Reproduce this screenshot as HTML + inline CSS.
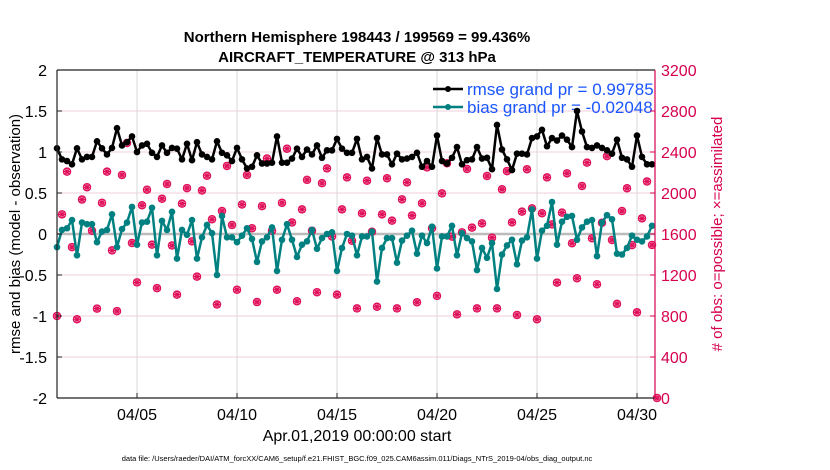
<!DOCTYPE html>
<html><head><meta charset="utf-8">
<style>
html,body{margin:0;padding:0;background:#fff;width:830px;height:470px;overflow:hidden}
svg{display:block;font-family:"Liberation Sans",sans-serif}
</style></head>
<body>
<svg id="chart" width="830" height="470" viewBox="0 0 830 470">
  <text x="357" y="42" text-anchor="middle" font-size="15" font-weight="bold">Northern Hemisphere 198443 / 199569 = 99.436%</text>
  <text x="357" y="62" text-anchor="middle" font-size="15" font-weight="bold">AIRCRAFT_TEMPERATURE @ 313 hPa</text>
  <g id="grid"></g>
  <g id="legend">
    <line x1="433" y1="89" x2="463" y2="89" stroke="#000" stroke-width="2.5"/>
    <circle cx="448" cy="89" r="3" fill="#000"/>
    <text x="467" y="95" font-size="17" fill="#1a56ff">rmse grand pr = 0.99785</text>
    <line x1="433" y1="107" x2="463" y2="107" stroke="#008080" stroke-width="2.5"/>
    <circle cx="448" cy="107" r="3" fill="#008080"/>
    <text x="467" y="113" font-size="17" fill="#1a56ff">bias grand pr = -0.02048</text>
  </g>
  <g id="obs"></g>
  <g id="series"></g>
  <g id="axes"></g>
  <text transform="translate(20,234) rotate(-90)" text-anchor="middle" font-size="15">rmse and bias (model - observation)</text>
  <text transform="translate(722,234) rotate(-90)" text-anchor="middle" font-size="15" fill="#d6004f"># of obs: o=possible; ×=assimilated</text>
  <text x="357" y="441" text-anchor="middle" font-size="16">Apr.01,2019 00:00:00 start</text>
  <text x="357" y="461" text-anchor="middle" font-size="7.5">data file: /Users/raeder/DAI/ATM_forcXX/CAM6_setup/f.e21.FHIST_BGC.f09_025.CAM6assim.011/Diags_NTrS_2019-04/obs_diag_output.nc</text>
</svg>
<script>
const rmse=[1.045,0.91,0.89,0.85,1.045,0.91,0.94,0.94,1.13,1.045,0.97,1.05,1.29,1.08,1.12,1.19,1.00,1.08,1.10,0.99,0.94,1.08,0.99,1.05,1.04,0.91,1.10,0.90,1.12,0.97,0.94,0.91,1.13,0.99,0.96,0.89,1.05,0.91,0.80,0.82,0.96,0.86,0.86,0.87,1.19,0.87,0.87,0.92,1.04,0.94,1.03,0.97,1.08,0.93,1.02,1.02,1.16,1.04,0.99,0.99,1.16,0.91,0.94,0.80,1.17,0.97,0.97,0.85,0.98,0.91,0.92,0.94,0.99,0.82,0.89,0.82,1.20,0.89,0.86,0.93,1.06,0.85,0.90,0.91,1.06,0.92,0.93,0.79,1.33,1.03,0.91,0.78,0.98,0.98,0.97,1.17,1.19,1.27,1.07,1.17,1.14,1.20,1.15,1.06,1.50,1.25,1.06,1.05,1.08,1.05,1.02,0.98,1.15,0.93,0.91,0.82,1.20,0.94,0.85,0.85];
const bias=[-0.16,0.05,0.07,0.17,-0.26,0.14,0.12,0.12,-0.10,0.03,0.05,0.24,-0.16,0.06,0.14,0.33,-0.13,0.14,0.15,0.32,-0.26,0.16,0.05,0.27,-0.30,0.05,-0.01,0.17,-0.30,-0.04,0.11,0.01,-0.50,0.22,-0.04,-0.04,-0.10,-0.02,0.07,-0.06,-0.34,-0.09,-0.04,0.08,-0.45,-0.07,0.12,-0.07,-0.28,-0.13,-0.09,0.05,-0.18,-0.05,0.00,0.02,-0.45,-0.17,0.00,-0.02,-0.26,-0.03,-0.03,0.03,-0.58,-0.17,-0.05,-0.05,-0.35,-0.08,-0.02,0.04,-0.24,-0.02,-0.11,0.09,-0.42,-0.03,-0.03,0.10,-0.26,0.01,-0.05,-0.09,-0.44,-0.17,-0.29,-0.11,-0.67,-0.25,-0.14,-0.07,-0.37,-0.08,-0.04,0.30,-0.30,0.04,0.10,0.39,-0.13,0.15,0.21,0.22,-0.07,0.08,0.15,0.17,-0.27,0.14,0.23,0.18,-0.24,-0.25,-0.17,-0.02,-0.07,-0.09,-0.03,0.10];
const obsCount=[800,1792,2208,1472,768,1936,2056,1632,872,1904,2208,1440,848,2176,2488,1512,1128,1880,2032,1496,1072,1944,2088,1488,1008,1896,2048,1528,1184,2024,2168,1744,912,1824,2264,1688,1056,1888,2176,1656,936,1872,2336,1632,1056,1904,2432,1712,944,1840,2128,1632,1032,2096,2240,1576,1008,1840,2152,1534,874,1802,2120,1622,890,1792,2144,1730,874,1938,2104,1780,934,1900,2250,1656,996,1996,2290,1574,816,1616,2234,1662,874,1704,2166,1564,874,2036,2214,1714,810,1818,2232,1850,768,1802,2152,1694,1126,1808,2192,1510,1168,2068,2296,1558,1110,1710,2360,1542,918,1824,2046,1492,836,1752,2112,1493,0];
const leftTicks=[-2,-1.5,-1,-0.5,0,0.5,1,1.5,2];
const rightTicks=[0,400,800,1200,1600,2000,2400,2800,3200];
const dateTicks=[4,9,14,19,24,29];
const dateLabels=["04/05","04/10","04/15","04/20","04/25","04/30"];

const NS="http://www.w3.org/2000/svg";
const L=57,R=655,T=70,B=398;
const xDay=d=>L+(R-L)*d/29.9;
const xIdx=i=>xDay(i*0.25);
const yL=v=>T+(2-v)/4*(B-T);
const yR=c=>B-c/3200*(B-T);
function mk(tag,attrs,parent){const e=document.createElementNS(NS,tag);for(const k in attrs)e.setAttribute(k,attrs[k]);parent.appendChild(e);return e;}
const grid=document.getElementById('grid'),axes=document.getElementById('axes'),obs=document.getElementById('obs'),ser=document.getElementById('series');

leftTicks.forEach((v,i)=>{
  const y=yL(v);
  const g=mk('line',{x1:L,x2:R,y1:y,y2:y,stroke:'#f2d0dc','stroke-width':1},grid);
  
  
  mk('line',{x1:L,x2:L+5,y1:y,y2:y,stroke:'#222'},axes);
  const t=mk('text',{x:L-10,y:y+6,'text-anchor':'end','font-size':16},axes);
  t.textContent=String(v);
  
  
});
rightTicks.forEach(c=>{
  const y=yR(c);
  mk('line',{x1:R-5,x2:R,y1:y,y2:y,stroke:'#d6004f'},axes);
  const t=mk('text',{x:R+6,y:y+6,'font-size':16,fill:'#d6004f'},axes);
  t.textContent=String(c);
  
  
});
dateTicks.forEach((d,i)=>{
  const x=xDay(d);
  const g=mk('line',{x1:x,x2:x,y1:T,y2:B,stroke:'#d8d8d8','stroke-width':1},grid);
  
  
  mk('line',{x1:x,x2:x,y1:B,y2:B-5,stroke:'#222'},axes);
  const t=mk('text',{x:x,y:B+22,'text-anchor':'middle','font-size':16},axes);
  t.textContent=dateLabels[i];
  
  
});
const zl=mk('line',{x1:L,x2:R,y1:yL(0),y2:yL(0),stroke:'#bbbbbb','stroke-width':2.5},grid);



mk('line',{x1:L,x2:L,y1:T,y2:B,stroke:'#222','stroke-width':1.2},axes);
mk('line',{x1:L,x2:R,y1:T,y2:T,stroke:'#222','stroke-width':1.2},axes);
mk('line',{x1:L,x2:R,y1:B,y2:B,stroke:'#222','stroke-width':1.2},axes);
mk('line',{x1:R,x2:R,y1:T,y2:B,stroke:'#d6004f','stroke-width':1.2},axes);

obsCount.forEach((c,i)=>{
  const x=xIdx(i),y=yR(c);
  const g=mk('g',{},obs);
  
  
  mk('circle',{cx:x,cy:y,r:3.6,fill:'#fff',stroke:'#e0105a','stroke-width':1.3},g);
  mk('path',{d:`M${x-4} ${y}H${x+4}M${x} ${y-4}V${y+4}M${x-3} ${y-3}L${x+3} ${y+3}M${x-3} ${y+3}L${x+3} ${y-3}`,stroke:'#e0105a','stroke-width':1.3},g);
});

function drawSeries(vals,color,name){
  const pts=vals.map((v,i)=>xIdx(i).toFixed(1)+','+yL(v).toFixed(1)).join(' ');
  const pl=mk('polyline',{points:pts,fill:'none',stroke:color,'stroke-width':2.5,'stroke-linejoin':'round'},ser);
  
  
  vals.forEach((v,i)=>{
    const c=mk('circle',{cx:xIdx(i),cy:yL(v),r:3.3,fill:color},ser);
    
    
  });
}
drawSeries(bias,'#008080','bias');
drawSeries(rmse,'#000000','rmse');
</script>
</body></html>
